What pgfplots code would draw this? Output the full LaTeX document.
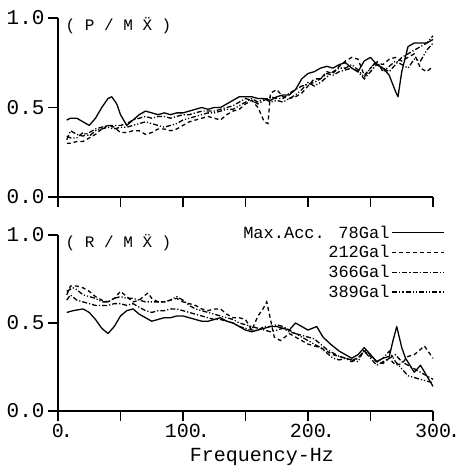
\documentclass[border=0pt]{standalone}
\usepackage{fontspec}
\usepackage{pgfplots}
\pgfplotsset{compat=1.18}
\setmainfont{Liberation Mono}

\pgfplotstableread{
x y
7 0.43
10 0.44
15 0.44
20 0.42
25 0.40
30 0.44
35 0.50
40 0.55
43 0.56
47 0.52
50 0.46
55 0.40
60 0.43
65 0.46
70 0.48
75 0.47
80 0.46
85 0.47
90 0.46
95 0.47
100 0.47
105 0.48
110 0.49
115 0.50
120 0.49
125 0.50
130 0.50
135 0.52
140 0.54
145 0.56
150 0.56
155 0.56
160 0.55
165 0.55
170 0.54
175 0.56
180 0.57
185 0.57
190 0.60
195 0.66
200 0.69
205 0.70
210 0.72
215 0.73
220 0.72
225 0.74
230 0.75
235 0.72
240 0.70
245 0.76
250 0.78
255 0.74
260 0.72
265 0.68
270 0.59
272 0.56
275 0.70
280 0.84
285 0.86
290 0.86
295 0.86
300 0.88
}\topA
\pgfplotstableread{
x y
7 0.30
10 0.30
15 0.31
20 0.31
25 0.33
30 0.35
35 0.38
40 0.40
45 0.39
50 0.36
55 0.36
60 0.37
65 0.37
70 0.35
75 0.36
80 0.38
85 0.38
90 0.37
95 0.38
100 0.40
105 0.42
110 0.43
115 0.44
120 0.45
125 0.44
130 0.43
135 0.46
140 0.48
145 0.49
150 0.52
155 0.54
160 0.50
165 0.42
168 0.41
170 0.58
175 0.60
180 0.56
185 0.55
190 0.56
195 0.58
200 0.62
205 0.66
210 0.66
215 0.70
220 0.69
225 0.73
230 0.76
235 0.78
240 0.77
245 0.68
250 0.72
255 0.75
260 0.74
265 0.77
270 0.78
275 0.76
280 0.78
285 0.80
290 0.72
295 0.70
300 0.73
}\topB
\pgfplotstableread{
x y
7 0.32
10 0.37
15 0.35
20 0.34
25 0.36
30 0.38
35 0.39
40 0.40
45 0.40
50 0.40
55 0.41
60 0.43
65 0.44
70 0.45
75 0.44
80 0.45
85 0.45
90 0.44
95 0.45
100 0.46
105 0.46
110 0.47
115 0.48
120 0.48
125 0.48
130 0.49
135 0.50
140 0.51
145 0.53
150 0.55
155 0.54
160 0.52
165 0.54
170 0.56
175 0.55
180 0.55
185 0.58
190 0.60
195 0.62
200 0.63
205 0.64
210 0.66
215 0.69
220 0.68
225 0.70
230 0.71
235 0.72
240 0.70
245 0.66
250 0.70
255 0.74
260 0.72
265 0.70
270 0.74
275 0.78
280 0.80
285 0.82
290 0.84
295 0.86
300 0.90
}\topC
\pgfplotstableread{
x y
7 0.34
10 0.33
15 0.33
20 0.36
25 0.34
30 0.37
35 0.38
40 0.39
45 0.38
50 0.39
55 0.39
60 0.40
65 0.41
70 0.42
75 0.41
80 0.40
85 0.39
90 0.40
95 0.41
100 0.43
105 0.44
110 0.45
115 0.46
120 0.47
125 0.47
130 0.48
135 0.49
140 0.49
145 0.51
150 0.53
155 0.55
160 0.53
165 0.55
170 0.53
175 0.54
180 0.53
185 0.55
190 0.57
195 0.60
200 0.64
205 0.62
210 0.64
215 0.67
220 0.70
225 0.72
230 0.72
235 0.74
240 0.71
245 0.67
250 0.72
255 0.76
260 0.70
265 0.73
270 0.76
275 0.74
280 0.72
285 0.77
290 0.76
295 0.82
300 0.86
}\topD

\pgfplotstableread{
x y
7 0.56
12 0.57
20 0.58
25 0.56
30 0.52
35 0.47
40 0.44
45 0.48
50 0.54
55 0.57
60 0.58
65 0.55
70 0.53
75 0.51
80 0.52
85 0.53
90 0.53
95 0.54
100 0.54
105 0.53
110 0.52
115 0.51
120 0.51
125 0.52
130 0.53
135 0.51
140 0.50
145 0.48
150 0.46
155 0.45
160 0.46
165 0.47
170 0.48
175 0.48
180 0.47
185 0.46
190 0.50
195 0.48
200 0.46
207 0.48
212 0.42
218 0.38
225 0.34
230 0.32
235 0.30
240 0.32
245 0.36
250 0.32
255 0.28
260 0.30
265 0.31
268 0.40
271 0.48
275 0.36
278 0.30
285 0.22
290 0.26
295 0.20
300 0.14
}\botA
\pgfplotstableread{
x y
7 0.66
10 0.71
15 0.71
20 0.70
25 0.68
30 0.65
35 0.63
40 0.62
45 0.64
50 0.68
55 0.65
60 0.62
65 0.63
70 0.66
72 0.67
75 0.64
80 0.62
85 0.62
90 0.63
95 0.64
100 0.62
105 0.61
110 0.60
115 0.58
120 0.57
125 0.58
130 0.58
135 0.55
140 0.53
145 0.53
150 0.52
155 0.46
160 0.54
164 0.58
167 0.62
170 0.52
173 0.42
178 0.40
185 0.44
190 0.42
195 0.40
200 0.38
205 0.37
210 0.36
215 0.34
220 0.32
225 0.31
230 0.30
235 0.29
240 0.30
245 0.34
250 0.31
255 0.28
260 0.27
265 0.30
270 0.26
275 0.27
280 0.31
285 0.32
290 0.35
293 0.37
297 0.33
300 0.30
}\botB
\pgfplotstableread{
x y
7 0.63
10 0.66
15 0.63
20 0.62
25 0.61
30 0.60
35 0.60
40 0.60
45 0.61
50 0.61
55 0.60
60 0.61
65 0.59
70 0.57
75 0.56
80 0.57
85 0.57
90 0.58
95 0.58
100 0.57
105 0.56
110 0.55
115 0.54
120 0.53
125 0.52
130 0.52
135 0.51
140 0.50
145 0.48
150 0.47
155 0.46
160 0.46
165 0.48
170 0.48
175 0.49
180 0.48
185 0.46
190 0.44
195 0.43
200 0.42
205 0.41
210 0.38
215 0.35
220 0.33
225 0.31
230 0.30
235 0.28
240 0.30
245 0.34
250 0.30
255 0.26
260 0.28
265 0.30
270 0.32
275 0.28
280 0.26
285 0.24
290 0.22
295 0.20
300 0.18
}\botC
\pgfplotstableread{
x y
7 0.68
12 0.70
15 0.69
20 0.66
25 0.65
30 0.64
35 0.62
40 0.62
45 0.64
50 0.65
55 0.64
60 0.64
65 0.63
70 0.62
75 0.62
80 0.62
85 0.62
90 0.63
95 0.65
100 0.63
105 0.60
110 0.58
115 0.57
120 0.56
125 0.55
130 0.54
135 0.53
140 0.52
145 0.50
150 0.49
155 0.48
160 0.47
165 0.46
170 0.45
175 0.46
180 0.47
185 0.45
190 0.44
195 0.42
200 0.40
205 0.38
210 0.36
215 0.33
220 0.30
225 0.29
230 0.30
235 0.29
240 0.28
245 0.35
250 0.32
255 0.28
260 0.30
265 0.34
270 0.28
275 0.24
280 0.20
285 0.19
290 0.18
295 0.17
300 0.16
}\botD

\begin{document}
\begin{tikzpicture}
\useasboundingbox (-58bp,-274bp) rectangle (403bp,197bp);
\pgfplotsset{
  every axis/.append style={
    scale only axis, width=375bp,
    xmin=0, xmax=300, ymin=0, ymax=1,
    axis x line=bottom, axis y line=left,
    axis line style={-, line width=1.2pt},
    ytick={0,0.5,1}, yticklabels={0.0,0.5,1.0},
    tick align=outside, major tick length=10bp,
    every tick/.style={black, line width=1.2pt},
    yticklabel style={font=\fontsize{21bp}{23bp}\selectfont},
    xticklabel style={font=\fontsize{20bp}{22bp}\selectfont},
    clip=false,
  },
  s78/.style={black, line width=1.3pt, line join=round},
  s212/.style={black, line width=1.3pt, dash pattern=on 4bp off 3bp},
  s366/.style={black, line width=1.3pt, dash pattern=on 5bp off 2bp on 1.2bp off 2bp},
  s389/.style={black, line width=1.3pt, dash pattern=on 5bp off 2bp on 1.2bp off 2bp on 1.2bp off 2bp},
}
\begin{axis}[at={(0,0)}, height=179bp, xtick={0,50,...,300}, xticklabels={}]
  \addplot[s78] table {\topA};
  \addplot[s212] table {\topB};
  \addplot[s366] table {\topC};
  \addplot[s389] table {\topD};
  \node[anchor=west, font=\fontsize{16bp}{18bp}\selectfont, inner sep=0pt] at (axis description cs:0.02,0.955) {( P / M \"{X} )};
\end{axis}
\begin{axis}[at={(0,-214bp)}, height=176bp,
  xtick={0,50,...,300},
  xticklabels={0\rlap{\kern-3bp.},,100\rlap{\kern-3bp.},,200\rlap{\kern-3bp.},,300\rlap{\kern-3bp.}},
  xlabel={Frequency-Hz},
  xlabel style={font=\fontsize{20bp}{22bp}\selectfont, at={(axis description cs:0.544,0)}, anchor=north, yshift=-34bp},
  legend style={at={(axis description cs:1.032,1.065)}, anchor=north east, draw=none, fill=none,
    font=\fontsize{17bp}{19bp}\selectfont, row sep=2bp, inner sep=0pt},
  legend cell align=right, legend plot pos=right,
  legend image code/.code={\draw[#1] (0bp,0bp) -- (52bp,0bp);},
]
  \addplot[s78] table {\botA};
  \addplot[s212] table {\botB};
  \addplot[s366] table {\botC};
  \addplot[s389] table {\botD};
  \legend{Max.Acc. 78Gal,212Gal,366Gal,389Gal}
  \node[anchor=west, font=\fontsize{16bp}{18bp}\selectfont, inner sep=0pt] at (axis description cs:0.02,0.955) {( R / M \"{X} )};
\end{axis}
\end{tikzpicture}
\end{document}
